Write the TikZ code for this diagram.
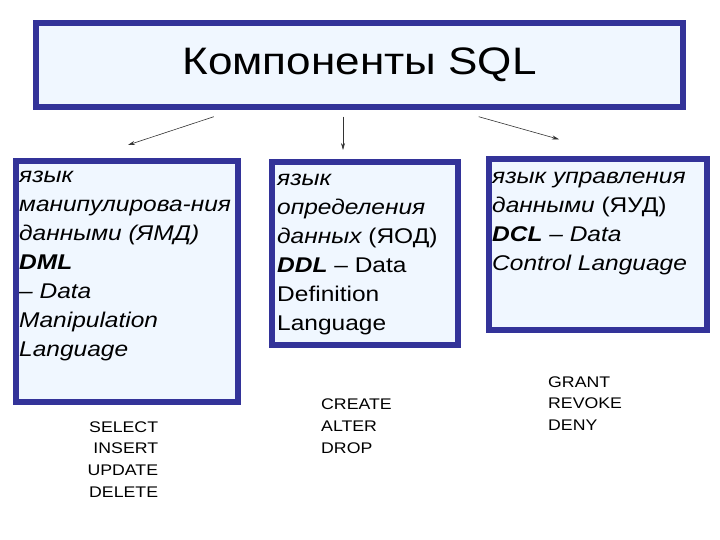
\documentclass[tikz,border=0pt]{standalone}
\usepackage{fontspec}
\setmainfont{Liberation Sans}[FakeStretch=1.15]
\usetikzlibrary{arrows.meta}
\definecolor{frameblue}{RGB}{51,51,153}
\definecolor{paleblue}{RGB}{240,247,255}
\tikzset{
  frame/.style={draw=frameblue, line width=6pt, fill=paleblue, inner sep=0pt},
  boxtext/.style={anchor=north west, inner sep=0pt, align=left,
    font=\fontsize{21.3}{29}\selectfont},
  cmdlist/.style={inner sep=0pt, font=\fontsize{15.4}{21.7}\selectfont}
}
\begin{document}
\begin{tikzpicture}[x=1pt, y=-1pt, >={Stealth[length=7pt, width=4pt]}]
  \useasboundingbox (0,0) rectangle (720,540);

  % Title
  \node[frame, minimum width=647pt, minimum height=84pt,
    font=\fontsize{38.3}{44}\selectfont] (title) at (359.5,65) {Компоненты SQL};

  % Boxes
  \node[frame, anchor=north west, minimum width=222pt, minimum height=241pt] (dmlbox) at (13,158) {};
  \node[frame, anchor=north west, minimum width=186pt, minimum height=183pt] (ddlbox) at (269,159) {};
  \node[frame, anchor=north west, minimum width=218pt, minimum height=171pt] (dclbox) at (486,156) {};

  % Texts in the boxes
  \node[boxtext] (dml) at (19,161.7) {\strut\itshape язык\\ \itshape манипулирова-ния\\
    \itshape данными (ЯМД)\\ \bfseries\itshape DML\\ \itshape -- Data\\
    \itshape Manipulation\\ \itshape Language};
  \node[boxtext] (ddl) at (277,164.7) {\strut\itshape язык\\ \itshape определения\\
    {\itshape данных} (ЯОД)\\ {\bfseries\itshape DDL} -- Data\\ Definition\\ Language};
  \node[boxtext] (dcl) at (492,162.7) {\strut\itshape язык управления\\
    {\itshape данными} (ЯУД)\\ {\bfseries\itshape DCL} \itshape -- Data\\
    \itshape Control Language};

  % Arrows from the title
  \coordinate (from1) at (213.8,116.7);
  \coordinate (to1) at (128,145);
  \coordinate (from2) at (343,116.7);
  \coordinate (to2) at (343,150);
  \coordinate (from3) at (478.7,116.7);
  \coordinate (to3) at (559,139.3);
  \draw[->, line width=0.6pt, black!80] (from1) -- (to1);
  \draw[->, line width=0.6pt, black!80] (from2) -- (to2);
  \draw[->, line width=0.6pt, black!80] (from3) -- (to3);

  % Statements
  \node[cmdlist, anchor=north east, align=right] (dmlcmd) at (158.3,416.7)
    {\strut SELECT\\ INSERT\\ UPDATE\\ DELETE};
  \node[cmdlist, anchor=north west, align=left] (ddlcmd) at (321,394.3)
    {\strut CREATE\\ ALTER\\ DROP};
  \node[cmdlist, anchor=north west, align=left] (dclcmd) at (548,371.7)
    {\strut GRANT\\ REVOKE\\ DENY};
\end{tikzpicture}
\end{document}
